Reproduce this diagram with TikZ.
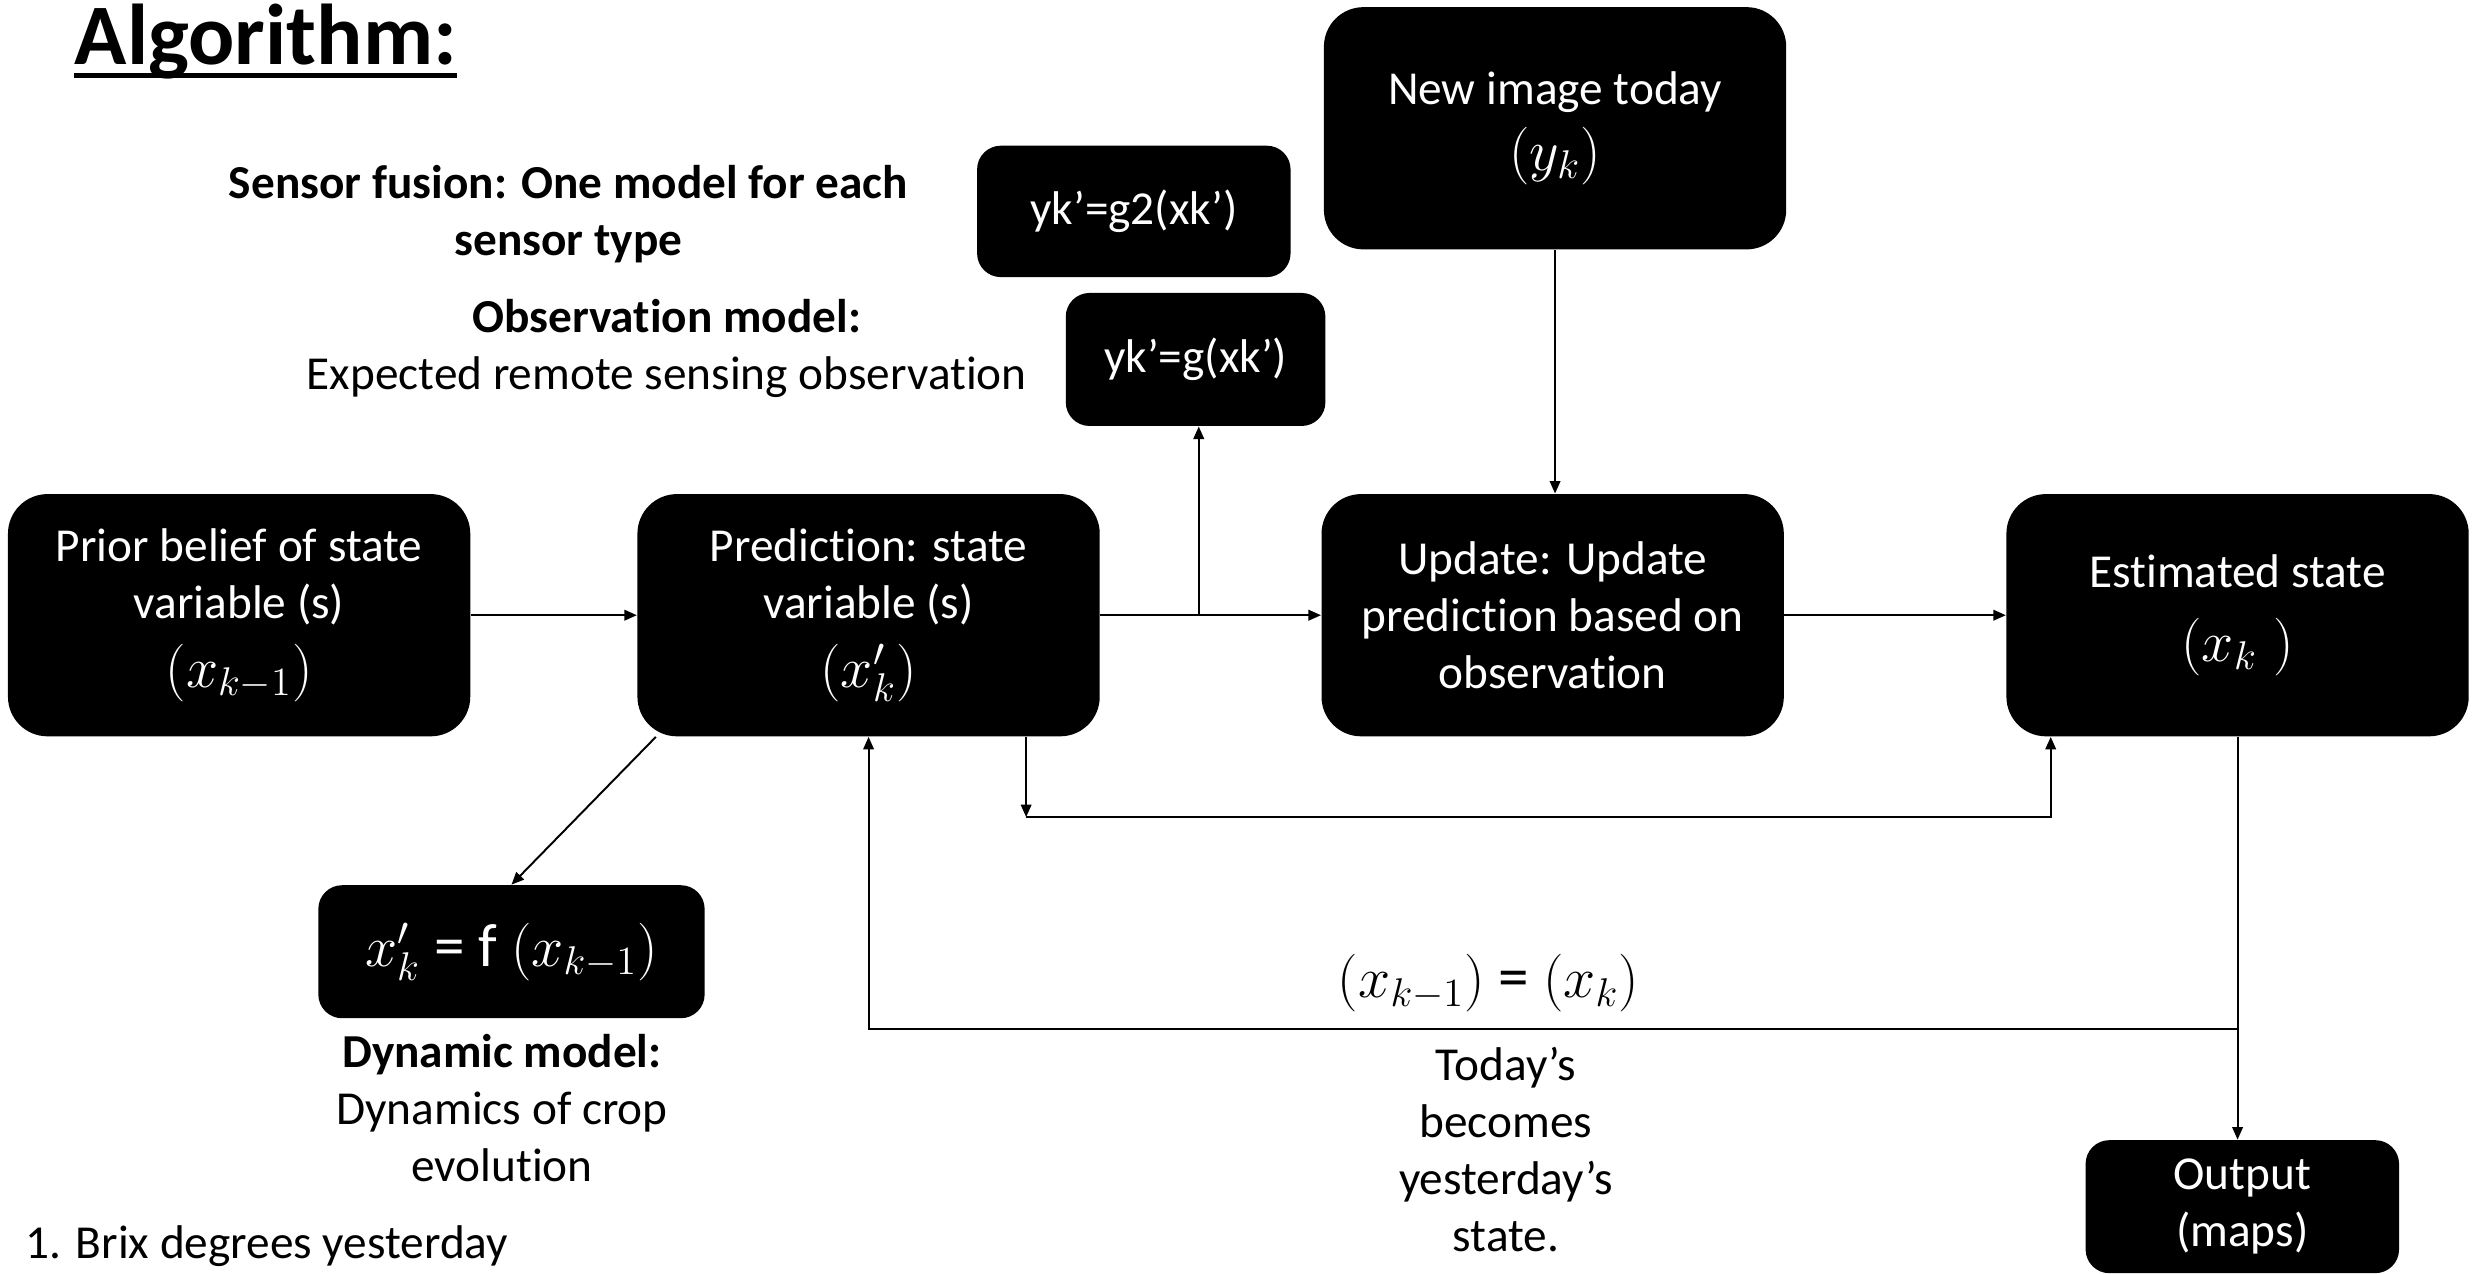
\documentclass[tikz,border=0pt]{standalone}
\usepackage{fontspec}
\setmainfont[Ligatures=NoCommon]{Carlito}
\usetikzlibrary{arrows.meta}

\tikzset{
    blackbox/.style={fill=black, text=white, align=center, inner sep=0pt,
        font=\fontsize{17}{20.5}\selectfont},
    bigbox/.style={blackbox, rounded corners=0.5cm, minimum width=5.84cm, minimum height=3.06cm},
    smallbox/.style={blackbox, rounded corners=0.3cm, minimum height=1.68cm},
    note/.style={align=center, font=\fontsize{17}{20.5}\selectfont},
    arr/.style={-{Triangle[length=4.5pt,width=3.8pt]}, line width=0.7pt},
}
\newcommand{\bigmath}[1]{{\fontsize{22}{26}\selectfont #1}}

\begin{document}
\begin{tikzpicture}[x=0.02cm, y=-0.02cm]
    \useasboundingbox (0,0) rectangle (1568,804);

    % title
    \node[anchor=base west, inner sep=0pt, font=\fontsize{31}{36}\selectfont\bfseries] (title) at (47,41) {Algorithm:};
    \draw[line width=1.7pt] ([yshift=-3.8pt]title.base west) -- ([yshift=-3.8pt]title.base east);

    % main row
    \node[bigbox] (prior) at (151,388.5) {Prior belief of state\\variable (s)\\[4pt]\bigmath{$(x_{k-1})$}};
    \node[bigbox] (pred) at (548.5,388.5) {Prediction: state\\variable (s)\\[4pt]\bigmath{$(x'_k)$}};
    \node[bigbox] (upd) at (980.5,388.5) {Update: Update\\prediction based on\\observation};
    \node[bigbox] (est) at (1413,388.5) {Estimated state\\[6pt]\bigmath{$(x_k\;)$}};
    \node[bigbox] (img) at (982,81) {New image today\\[3pt]\bigmath{$(y_k)$}};

    % observation models
    \node[smallbox, minimum width=3.96cm, minimum height=1.66cm] (gtwo) at (716,133.5) {yk’=g2(xk’)};
    \node[smallbox, minimum width=3.28cm] (g) at (755,227) {yk’=g(xk’)};
    \node[note] (fusion) at (359,135) {\bfseries Sensor fusion: One model for each\\\bfseries sensor type};
    \node[note] (obs) at (421,220) {\bfseries Observation model:\\Expected remote sensing observation};

    % dynamic model
    \node[smallbox, minimum width=4.88cm] (dyn) at (323,601) {\bigmath{$x'_k$ = f $(x_{k-1})$}};
    \node[note] (dynnote) at (317,700) {\bfseries Dynamic model:\\Dynamics of crop\\evolution};

    % output and feedback texts
    \node[smallbox, minimum width=3.96cm] (out) at (1416,762) {Output\\(maps)};
    \node[note] (swap) at (940,621) {\bigmath{$(x_{k-1})$ = $(x_k)$}};
    \node[note] (today) at (951,726) {Today’s\\becomes\\yesterday’s\\state.};
    \node[note, anchor=west] (brix) at (10,787) {1. Brix degrees yesterday};

    % connectors
    \coordinate (split) at (757,388.5);
    \coordinate (down) at (648,516);
    \coordinate (over) at (1295,516);
    \coordinate (back) at (1413,650);
    \draw[arr] (prior) -- (pred);
    \draw[arr] (pred) -- (upd);
    \draw[arr] (split) -- (split |- g.south);
    \draw[arr] (img.south) -- (img.south |- upd.north);
    \draw[arr] (upd) -- (est);
    \draw[arr] ([xshift=0.24cm]pred.south west) -- (dyn.north);
    \draw[arr] (pred.south -| down) -- (down);
    \draw[arr] (down) -- (over) -- (over |- est.south);
    \draw[arr] (est.south) -- (est.south |- out.north);
    \draw[arr] (back) -- (back -| pred.south) -- (pred.south);
\end{tikzpicture}
\end{document}
